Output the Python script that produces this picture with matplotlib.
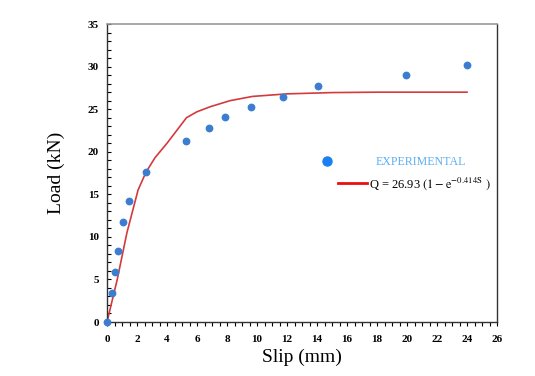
import matplotlib.pyplot as plt
import numpy as np
from matplotlib.ticker import MultipleLocator
from matplotlib.lines import Line2D

plt.rcParams['font.family'] = ['Liberation Serif', 'DejaVu Serif']
plt.rcParams['mathtext.fontset'] = 'stix'

# experimental points (slip mm, load kN)
slip_exp = [0, 0.33, 0.53, 0.73, 1.07, 1.47, 2.6, 5.27, 6.8, 7.87, 9.6, 11.73, 14.07, 19.93, 24.0]
load_exp = [0, 3.4, 5.9, 8.3, 11.7, 14.2, 17.6, 21.3, 22.8, 24.1, 25.3, 26.4, 27.7, 29.0, 30.2]

# fitted curve
slip_fit = [0, 0.67, 1.33, 2.07, 2.6, 3.2, 4.0, 5.3, 6.0, 6.9, 8.2, 9.7, 12, 15, 18, 24]
load_fit = [0, 4.9, 10.5, 15.5, 17.6, 19.3, 21.0, 24.0, 24.7, 25.3, 26.0, 26.5, 26.8, 26.95, 27.0, 27.0]

fig = plt.figure(figsize=(5.35, 3.76), dpi=100)
ax = fig.add_axes([0.2, 0.1436, 0.729, 0.7924])

ax.plot(slip_fit, load_fit, color="#d43a3c", lw=1.2, zorder=2)
ax.plot(slip_exp, load_exp, ls="none", marker="o", ms=4.6, color="#3b7dd0", zorder=3, clip_on=False)

ax.set_xlim(0, 26)
ax.set_ylim(0, 35)
ax.xaxis.set_major_locator(MultipleLocator(2))
ax.xaxis.set_minor_locator(MultipleLocator(0.5))
ax.yaxis.set_major_locator(MultipleLocator(5))
ax.yaxis.set_minor_locator(MultipleLocator(1))

ax.tick_params(axis="x", which="both", direction="out", length=3, width=0.8, pad=6)
ax.tick_params(axis="y", which="both", direction="in", length=3, width=0.8, pad=6)
for lab in ax.get_xticklabels() + ax.get_yticklabels():
    lab.set_fontweight("bold")
    lab.set_fontsize(8)

ax.spines["top"].set_color("#999999")
ax.spines["top"].set_linewidth(1.2)
for s in ["left", "bottom", "right"]:
    ax.spines[s].set_color("#333333")
    ax.spines[s].set_linewidth(1.0)

ax.set_xlabel("Slip (mm)", fontsize=14, labelpad=4)
ax.set_ylabel("Load (kN)", fontsize=14, labelpad=16)

# legend rows placed separately, as in the original layout
h_exp = Line2D([], [], ls="none", marker="o", ms=6.5, color="#1a7ff0")
leg1 = ax.legend([h_exp], ["EXPERIMENTAL"], loc="center left", bbox_to_anchor=(0.4487, 0.537),
                 frameon=False, fontsize=8.6, handlelength=7.5, handletextpad=0.3,
                 borderpad=0, borderaxespad=0)
leg1.get_texts()[0].set_color("#5aaef2")
ax.add_artist(leg1)

h_fit = Line2D([], [], color="#e81010", lw=2)
leg2 = ax.legend([h_fit], [r"Q = 26.93 $(1 - \mathrm{e}^{-0.414\mathrm{S}}\ )$"], loc="center left",
                 bbox_to_anchor=(0.592, 0.466), frameon=False, fontsize=9,
                 handlelength=2.3, handletextpad=0.15, borderpad=0, borderaxespad=0)

fig.savefig("out.png", dpi=100)
